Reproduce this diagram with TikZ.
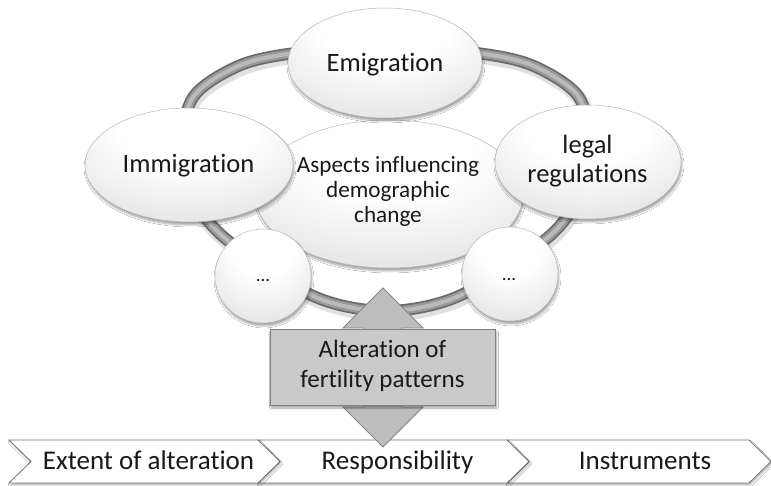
\documentclass[tikz,border=0pt]{standalone}
\usepackage{fontspec}
\setmainfont{Carlito}[Ligatures=NoCommon]
\usetikzlibrary{shapes.geometric,shadows.blur}

% glossy fill for the bubbles: bright highlight near the top, grey towards the rim below
\pgfdeclareradialshading{glossy}{\pgfpoint{0bp}{20bp}}{%
  color(0bp)=(white); color(16bp)=(white); color(36bp)=(black!10);
  color(54bp)=(black!19); color(64bp)=(black!30); color(72bp)=(black!50)}

\tikzset{
  bubble/.style={ellipse, shading=glossy, draw=black!28, line width=0.5pt,
    inner sep=0pt,
    blur shadow={shadow xshift=1pt, shadow yshift=-3pt, shadow opacity=35,
                 shadow blur steps=6}},
  label/.style={text=black!90, inner sep=0pt, align=center},
  chevron/.style={fill=white, draw=black!55, line width=0.8pt,
    blur shadow={shadow xshift=1pt, shadow yshift=-2pt, shadow opacity=30,
                 shadow blur steps=4}},
  greybox/.style={rectangle, fill=black!21, draw=black!50, line width=0.8pt,
    inner sep=0pt,
    blur shadow={shadow xshift=1.5pt, shadow yshift=-3pt, shadow opacity=35,
                 shadow blur steps=6}},
  ringpath/.style={line join=round},
}

\begin{document}
\begin{tikzpicture}[x=1pt, y=-1pt]
\useasboundingbox (0,0) rectangle (771,486);
\fill[white] (0,0) rectangle (771,486);

% ---- the ring behind the bubbles ----
\def\ringpts{(386,46) (484,54) (536,67) (580,99) (592,165) (555,231)
  (461,295) (386,311) (311,295) (217,231) (180,165) (192,99) (236,67) (288,54)}
\draw[ringpath, line width=15pt, black!30, opacity=.4, shift={(1.5,3)}]
  plot[smooth cycle] coordinates {\ringpts};
\draw[ringpath, line width=12pt, black!58] plot[smooth cycle] coordinates {\ringpts};
\draw[ringpath, line width=8.5pt, black!40] plot[smooth cycle] coordinates {\ringpts};
\draw[ringpath, line width=4pt, black!27] plot[smooth cycle] coordinates {\ringpts};

% ---- bubbles ----
\node[bubble, minimum width=268pt, minimum height=148pt] (core) at (389,194) {};
\node[bubble, minimum width=96pt, minimum height=94pt] (dotsL) at (263,276) {};
\node[bubble, minimum width=96pt, minimum height=94pt] (dotsR) at (510,274) {};
\node[bubble, minimum width=208pt, minimum height=114pt] (immi) at (189,165) {};
\node[bubble, minimum width=186pt, minimum height=114pt] (legal) at (588,162) {};
\node[bubble, minimum width=194pt, minimum height=110pt] (emi) at (385,63) {};

% ---- process chevrons ----
\draw[chevron] (507,440) -- (749,440) -- (771,461.5) -- (749,483) -- (507,483)
  -- (529,461.5) -- cycle;
\draw[chevron] (258,440) -- (507,440) -- (529,461.5) -- (507,483) -- (258,483)
  -- (280,461.5) -- cycle;
\draw[chevron] (9,440) -- (258,440) -- (280,461.5) -- (258,483) -- (9,483)
  -- (31,461.5) -- cycle;

% ---- vertical double arrow and its box ----
\coordinate (atop) at (383,288);
\coordinate (abot) at (383,447);
\fill[black!26, draw=black!48, line width=0.8pt, line join=miter]
  (atop) -- ++(40,40) -- ++(-21,0) -- ++(0,79) -- ++(21,0) -- (abot)
  -- ++(-40,-40) -- ++(21,0) -- ++(0,-79) -- ++(-21,0) -- cycle;
\node[greybox, minimum width=225pt, minimum height=76pt] (alt) at (382.5,367) {};

% ---- texts ----
\node[label, font=\fontsize{26.5}{30}\selectfont, anchor=base] (temi) at (385,72) {Emigration};
\node[label, font=\fontsize{26.5}{30}\selectfont, anchor=base] (timmi) at (188.5,173) {Immigration};
\node[label, font=\fontsize{26.5}{29.5}\selectfont] (tlegal) at (587.5,162)
  {\strut legal\\\strut regulations};
\node[label, font=\fontsize{23.2}{25}\selectfont] (tcore) at (388,193)
  {\strut Aspects influencing\\\strut demographic\\\strut change};
\node[label, font=\fontsize{19}{22}\selectfont, anchor=base] (tdl) at (263,282) {...};
\node[label, font=\fontsize{19}{22}\selectfont, anchor=base] (tdr) at (509,281) {...};
\node[label, font=\fontsize{25}{30}\selectfont] (talt) at (382.5,366)
  {\strut Alteration of\\\strut fertility patterns};
\node[label, font=\fontsize{27}{30}\selectfont, anchor=base] (t1) at (148.5,469) {Extent of alteration};
\node[label, font=\fontsize{27}{30}\selectfont, anchor=base] (t2) at (397.5,469) {Responsibility};
\node[label, font=\fontsize{27}{30}\selectfont, anchor=base] (t3) at (645,469) {Instruments};
\end{tikzpicture}
\end{document}
